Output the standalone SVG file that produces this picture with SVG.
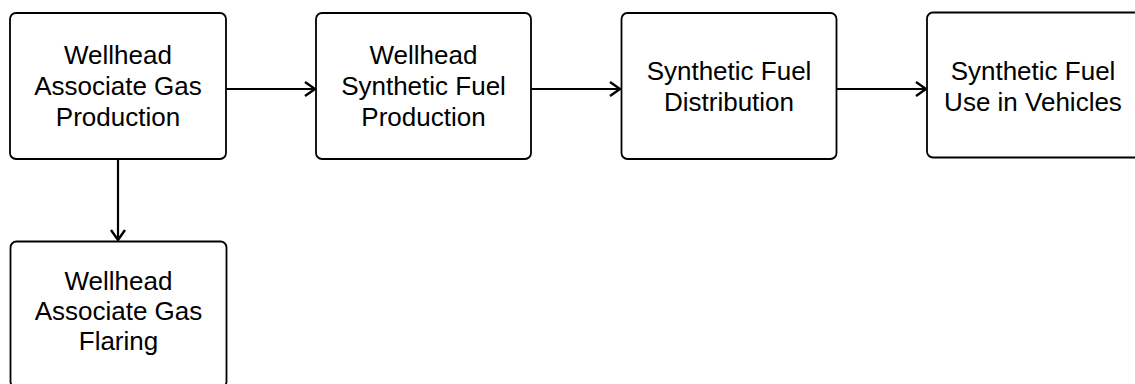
<svg xmlns="http://www.w3.org/2000/svg" width="1135" height="384" viewBox="0 0 1135 384">
<style>
.box{fill:#fff;stroke:#000;stroke-width:1.8}
.lbl{font-family:"Liberation Sans",Arial,sans-serif;font-size:26px;fill:#000;text-anchor:middle}
.conn{stroke:#000;stroke-width:2.2;fill:none}
</style>
<defs>
<marker id="arr" viewBox="0 0 12 16" refX="11" refY="8" markerWidth="12" markerHeight="16" markerUnits="userSpaceOnUse" orient="auto">
<path d="M1,1 L11,8 L1,15" fill="none" stroke="#000" stroke-width="2.4"/>
</marker>
</defs>
<rect width="1135" height="384" fill="#fff"/>
<g id="connectors">
<line class="conn" x1="226" y1="89" x2="315" y2="89" marker-end="url(#arr)"/>
<line class="conn" x1="531" y1="89" x2="620" y2="89" marker-end="url(#arr)"/>
<line class="conn" x1="837" y1="89" x2="926" y2="89" marker-end="url(#arr)"/>
<line class="conn" x1="118" y1="160" x2="118" y2="240" marker-end="url(#arr)"/>
</g>
<g id="node-production">
<rect class="box" x="10" y="13" width="216" height="146" rx="6"/>
<text class="lbl" x="118" y="64">Wellhead</text>
<text class="lbl" x="118" y="95">Associate Gas</text>
<text class="lbl" x="118" y="126">Production</text>
</g>
<g id="node-synfuel">
<rect class="box" x="316" y="13" width="215" height="146" rx="6"/>
<text class="lbl" x="423.5" y="64">Wellhead</text>
<text class="lbl" x="423.5" y="95">Synthetic Fuel</text>
<text class="lbl" x="423.5" y="126">Production</text>
</g>
<g id="node-distribution">
<rect class="box" x="621.5" y="13" width="215" height="146" rx="6"/>
<text class="lbl" x="729" y="80">Synthetic Fuel</text>
<text class="lbl" x="729" y="111">Distribution</text>
</g>
<g id="node-vehicles">
<rect class="box" x="927" y="12.5" width="216" height="145" rx="6"/>
<text class="lbl" x="1033" y="80">Synthetic Fuel</text>
<text class="lbl" x="1033" y="111">Use in Vehicles</text>
</g>
<g id="node-flaring">
<rect class="box" x="10.5" y="241.5" width="216" height="146" rx="6"/>
<text class="lbl" x="118.5" y="290">Wellhead</text>
<text class="lbl" x="118.5" y="320">Associate Gas</text>
<text class="lbl" x="118.5" y="350">Flaring</text>
</g>
</svg>
